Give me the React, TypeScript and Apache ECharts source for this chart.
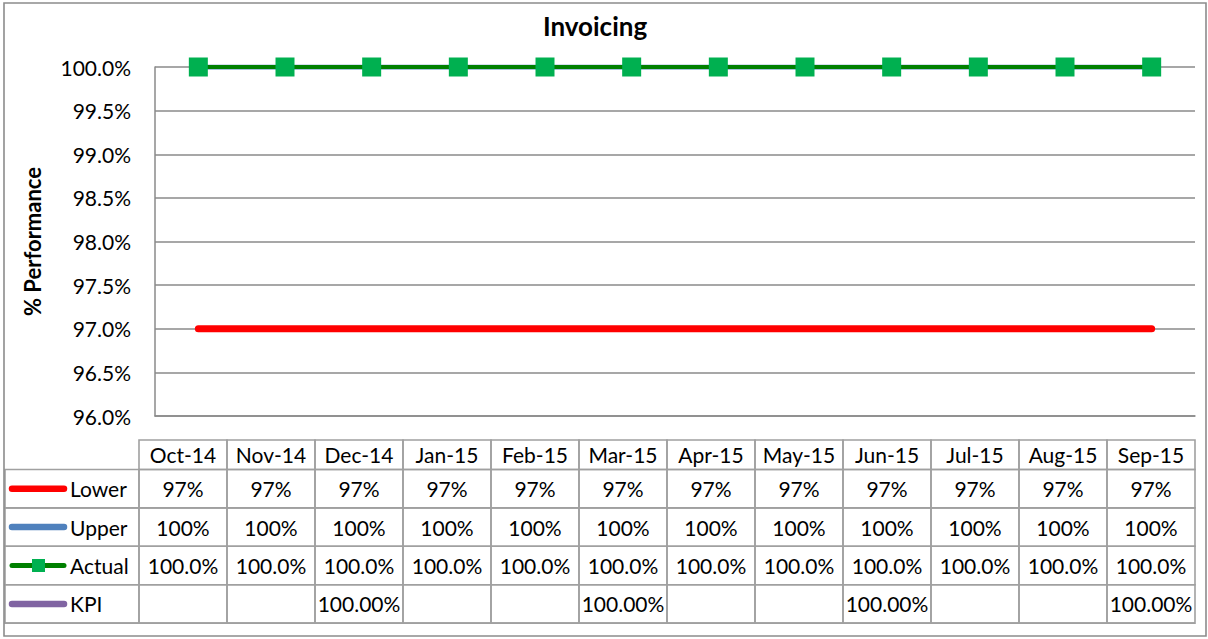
import React, { useEffect, useRef } from "react";
import * as echarts from "echarts";

const categories = ["Oct-14", "Nov-14", "Dec-14", "Jan-15", "Feb-15", "Mar-15", "Apr-15", "May-15", "Jun-15", "Jul-15", "Aug-15", "Sep-15"];
const lowerValues = [97, 97, 97, 97, 97, 97, 97, 97, 97, 97, 97, 97];
const upperValues = [100, 100, 100, 100, 100, 100, 100, 100, 100, 100, 100, 100];
const actualValues = [100.0, 100.0, 100.0, 100.0, 100.0, 100.0, 100.0, 100.0, 100.0, 100.0, 100.0, 100.0];
const kpiValues: (number | null)[] = [null, null, 100, null, null, 100, null, null, 100, null, null, 100];
const yMin = 96;
const yMax = 100;
const yStep = 0.5;

const FONT = "Lato";
const C_LOWER = "#FF0000";
const C_UPPER = "#4F81BD";
const C_ACTUAL = "#008000";
const C_MARKER = "#00B050";
const C_KPI = "#8064A2";
const C_GRID = "#8a8a8a";
const C_TABLE = "#a0a0a0";

type Row = { name: string; color: string; values: (number | null)[]; fmt: (v: number) => string; marker?: boolean };

const rows: Row[] = [
  { name: "Lower", color: C_LOWER, values: lowerValues, fmt: (v) => v.toFixed(0) + "%" },
  { name: "Upper", color: C_UPPER, values: upperValues, fmt: (v) => v.toFixed(0) + "%" },
  { name: "Actual", color: C_ACTUAL, values: actualValues, fmt: (v) => v.toFixed(1) + "%", marker: true },
  { name: "KPI", color: C_KPI, values: kpiValues, fmt: (v) => v.toFixed(2) + "%" },
];

function buildTable(): any[] {
  const els: any[] = [];
  const LEFT = 5;
  const TL = 139;
  const COLW = 88;
  const HT = 440;
  const HH = 29.5;
  const RH = 38.4;
  const n = categories.length;
  const textStyle = { fontFamily: FONT, fontSize: 21, fill: "#000", align: "center", verticalAlign: "middle" };
  const cellStroke = { fill: "none", stroke: C_TABLE, lineWidth: 1.6 };
  categories.forEach((c, i) => {
    els.push({ type: "rect", shape: { x: TL + i * COLW, y: HT, width: COLW, height: HH }, style: cellStroke, z: 10 });
    els.push({ type: "text", x: TL + i * COLW + COLW / 2, y: HT + HH / 2, style: { ...textStyle, text: c }, z: 11 });
  });
  rows.forEach((r, ri) => {
    const y0 = HT + HH + ri * RH;
    const cy = y0 + RH / 2;
    els.push({ type: "rect", shape: { x: LEFT, y: y0, width: TL - LEFT, height: RH }, style: cellStroke, z: 10 });
    els.push({
      type: "line",
      shape: { x1: 12, y1: cy, x2: 64, y2: cy },
      style: { stroke: r.color, lineWidth: r.marker ? 5 : 6.5, lineCap: "round" },
      z: 12,
    });
    if (r.marker) {
      els.push({ type: "rect", shape: { x: 32, y: cy - 6.5, width: 13, height: 13 }, style: { fill: C_MARKER }, z: 13 });
    }
    els.push({ type: "text", x: 70, y: cy, style: { ...textStyle, align: "left", text: r.name }, z: 11 });
    for (let i = 0; i < n; i++) {
      els.push({ type: "rect", shape: { x: TL + i * COLW, y: y0, width: COLW, height: RH }, style: cellStroke, z: 10 });
      const v = r.values[i];
      if (v !== null && v !== undefined) {
        els.push({ type: "text", x: TL + i * COLW + COLW / 2, y: cy, style: { ...textStyle, text: r.fmt(v) }, z: 11 });
      }
    }
  });
  els.push({
    type: "line",
    shape: { x1: LEFT, y1: HT + HH + rows.length * RH, x2: TL + n * COLW, y2: HT + HH + rows.length * RH },
    style: { stroke: C_TABLE, lineWidth: 1.6 },
    z: 10,
  });
  els.push({
    type: "rect",
    shape: { x: 4, y: 3, width: 1202, height: 633 },
    style: { fill: "none", stroke: "#8c8c8c", lineWidth: 1.6 },
    z: 20,
  });
  return els;
}

export default function App() {
  const ref = useRef<HTMLDivElement>(null);
  useEffect(() => {
    document.body.style.margin = "0";
    if (!ref.current) return;
    const chart = echarts.init(ref.current, undefined, { renderer: "svg" });
    chart.setOption({
      animation: false,
      backgroundColor: "#fff",
      title: {
        text: "Invoicing",
        left: 590,
        top: 8,
        textAlign: "center",
        textStyle: { fontFamily: FONT, fontSize: 26, fontWeight: "bold", color: "#000" },
      },
      grid: { left: 155, right: 13, top: 67, bottom: 223 },
      xAxis: {
        type: "category",
        data: categories,
        boundaryGap: true,
        axisLabel: { show: false },
        axisTick: { show: false },
        axisLine: { show: true, lineStyle: { color: C_GRID, width: 1.5 } },
        splitLine: { show: false },
      },
      yAxis: {
        type: "value",
        min: yMin,
        max: yMax,
        interval: yStep,
        name: "% Performance",
        nameLocation: "middle",
        nameRotate: 90,
        nameGap: 112,
        nameTextStyle: { fontFamily: FONT, fontSize: 22, fontWeight: "bold", color: "#000" },
        axisLine: { show: true, lineStyle: { color: C_GRID, width: 1.5 } },
        axisTick: { show: false },
        axisLabel: {
          margin: 24,
          fontFamily: FONT,
          fontSize: 21,
          color: "#000",
          formatter: (v: number) => v.toFixed(1) + "%",
        },
        splitLine: { show: true, lineStyle: { color: C_GRID, width: 1.5 } },
      },
      series: [
        {
          name: "Lower",
          type: "line",
          data: lowerValues,
          showSymbol: false,
          lineStyle: { color: C_LOWER, width: 7, cap: "round" },
          itemStyle: { color: C_LOWER },
          z: 3,
        },
        {
          name: "Upper",
          type: "line",
          data: upperValues,
          showSymbol: false,
          lineStyle: { color: C_UPPER, width: 5, cap: "round" },
          itemStyle: { color: C_UPPER },
          z: 3,
        },
        {
          name: "Actual",
          type: "line",
          data: actualValues,
          symbol: "rect",
          symbolSize: 19,
          itemStyle: { color: C_MARKER },
          lineStyle: { color: C_ACTUAL, width: 4 },
          z: 4,
        },
        {
          name: "KPI",
          type: "line",
          data: kpiValues,
          showSymbol: false,
          connectNulls: false,
          lineStyle: { color: C_KPI, width: 4 },
          itemStyle: { color: C_KPI },
          z: 2,
        },
      ],
      graphic: buildTable(),
    });
    return () => chart.dispose();
  }, []);
  return <div ref={ref} style={{ width: 1208, height: 639 }} />;
}
